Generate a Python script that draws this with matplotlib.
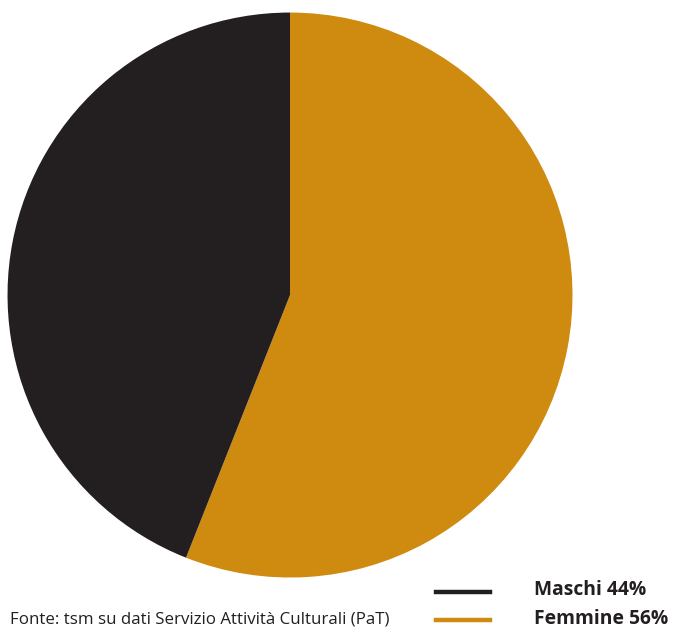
import matplotlib
matplotlib.use("Agg")
import matplotlib.pyplot as plt
from matplotlib.lines import Line2D

labels = ["Femmine", "Maschi"]
values = [56, 44]
colors = ["#cf8a10", "#231f20"]
legend_order = ["Maschi", "Femmine"]

plt.rcParams['font.family'] = ['Open Sans', 'DejaVu Sans']

fig = plt.figure(figsize=(6.78, 6.30), dpi=100)
ax = fig.add_axes([0.0111, 0.0833, 0.8333, 0.8968])
ax.pie(values, colors=colors, startangle=90, counterclock=False, radius=1,
       wedgeprops=dict(linewidth=0))
ax.set_xlim(-1, 1)
ax.set_ylim(-1, 1)
ax.set_aspect('equal')
ax.axis('off')

# legend drawn by hand
ys = [0.061, 0.016]
for lab, y in zip(legend_order, ys):
    i = labels.index(lab)
    fig.add_artist(Line2D([436 / 678, 490 / 678], [y, y], color=colors[i], lw=3.2,
                          transform=fig.transFigure))
    fig.text(534 / 678, y + 0.002, f"{lab} {values[i]}%", fontsize=13.9, fontweight='bold',
             color="#231f20", va='center', ha='left')

fig.text(10 / 678, 0.016, "Fonte: tsm su dati Servizio Attività Culturali (PaT)",
         fontsize=12.2, color="#231f20", va='center', ha='left')

fig.savefig("out.png", dpi=100)
